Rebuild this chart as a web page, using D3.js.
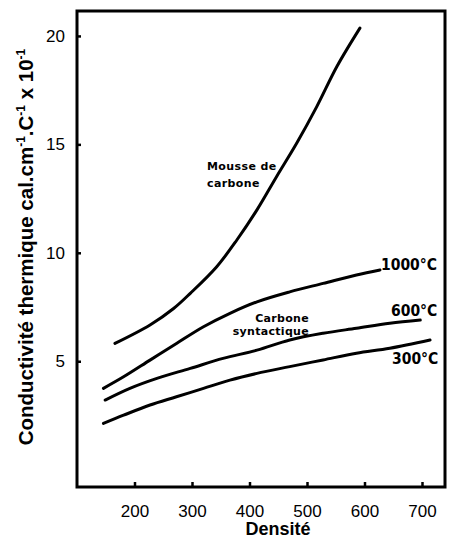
<!DOCTYPE html>
<html><head><meta charset="utf-8">
<script src="https://cdn.jsdelivr.net/npm/d3@7/dist/d3.min.js"></script>
<style>body{margin:0;background:#fff}</style>
</head><body>
<svg id="c" width="449" height="547"></svg>
<script>
const xTicks = [200, 300, 400, 500, 600, 700];
const yTicks = [5, 10, 15, 20];
const mousseX = [166, 227, 268, 297, 343, 378, 413, 447, 482, 517, 552, 592];
const mousseY = [5.82, 6.67, 7.43, 8.13, 9.36, 10.59, 11.98, 13.51, 15.05, 16.74, 18.59, 20.36];
const t1000X = [146, 181, 227, 273, 320, 366, 413, 470, 528, 586, 627];
const t1000Y = [3.75, 4.28, 5.05, 5.82, 6.59, 7.21, 7.74, 8.20, 8.59, 8.98, 9.21];
const t600X = [149, 192, 239, 297, 354, 413, 470, 528, 586, 644, 697];
const t600Y = [3.21, 3.75, 4.21, 4.67, 5.13, 5.51, 5.98, 6.29, 6.52, 6.75, 6.90];
const t300X = [146, 181, 227, 273, 320, 366, 413, 470, 528, 586, 644, 714];
const t300Y = [2.13, 2.51, 2.98, 3.36, 3.75, 4.13, 4.44, 4.75, 5.06, 5.37, 5.60, 5.98];
const seriesLabels = ["1000°C", "600°C", "300°C"];

const svg = d3.select("#c");
const L = 77, R = 445, T = 11, B = 487;
const x = d3.scaleLinear().domain([100, 740]).range([L, R]);
const y = d3.scaleLinear().domain([-0.8, 21.15]).range([B, T]);

// frame
svg.append("rect").attr("x", L).attr("y", T).attr("width", R - L).attr("height", B - T)
  .attr("fill", "none").attr("stroke", "#000").attr("stroke-width", 3);

// x axis
const xa = svg.append("g").attr("transform", `translate(0,${B})`)
  .call(d3.axisBottom(x).tickValues(xTicks).tickSize(-5).tickPadding(18).tickFormat(d3.format("d")));
xa.select(".domain").remove();
xa.selectAll("line").attr("stroke-width", 2.5);
xa.selectAll("text").attr("font-family", "Liberation Sans, Arial, sans-serif").attr("font-size", 17).attr("fill", "#000");

// y axis
const ya = svg.append("g").attr("transform", `translate(${L},0)`)
  .call(d3.axisLeft(y).tickValues(yTicks).tickSize(-4).tickPadding(12).tickFormat(d3.format("d")));
ya.select(".domain").remove();
ya.selectAll("line").attr("stroke-width", 2.5);
ya.selectAll("text").attr("font-family", "Liberation Sans, Arial, sans-serif").attr("font-size", 17).attr("fill", "#000");

// axis titles
svg.append("text").attr("x", 278).attr("y", 535).attr("text-anchor", "middle")
  .attr("font-family", "Liberation Sans, Arial, sans-serif").attr("font-weight", "bold").attr("font-size", 18)
  .text("Densité");

const yt = svg.append("text").attr("transform", "translate(33,247) rotate(-90)").attr("text-anchor", "middle")
  .attr("font-family", "Liberation Sans, Arial, sans-serif").attr("font-weight", "bold").attr("font-size", 20.5);
yt.append("tspan").text("Conductivité thermique cal.cm");
yt.append("tspan").attr("dy", -8).attr("font-size", 12).text("-1");
yt.append("tspan").attr("dy", 8).text(".C");
yt.append("tspan").attr("dy", -8).attr("font-size", 12).text("-1");
yt.append("tspan").attr("dy", 8).text(" x 10");
yt.append("tspan").attr("dy", -8).attr("font-size", 12).text("-1");

// curves
const line = d3.line().x(d => x(d[0])).y(d => y(d[1])).curve(d3.curveCatmullRom.alpha(0.5));
[[mousseX, mousseY], [t1000X, t1000Y], [t600X, t600Y], [t300X, t300Y]].forEach(([xs, ys]) => {
  svg.append("path").datum(xs.map((v, i) => [v, ys[i]])).attr("d", line)
    .attr("fill", "none").attr("stroke", "#000").attr("stroke-width", 3).attr("stroke-linecap", "round");
});

// annotations
const ann = (tx, ty, s, anchor, size, fam, ls) => svg.append("text").attr("x", tx).attr("y", ty)
  .attr("text-anchor", anchor).attr("font-family", fam).attr("font-weight", "bold")
  .attr("letter-spacing", ls || 0)
  .attr("font-size", size).attr("fill", "#000").text(s);
const annFont = "DejaVu Sans, sans-serif";
ann(207, 170, "Mousse de", "start", 11, annFont, 0.4);
ann(207, 187, "carbone", "start", 11, annFont, 0.4);
ann(309, 322, "Carbone", "end", 11, annFont, 0.3);
ann(309, 335, "syntactique", "end", 11, annFont, 0.3);
const tFont = "DejaVu Sans Condensed, DejaVu Sans, sans-serif";
ann(381, 270, seriesLabels[0], "start", 15.5, tFont);
ann(391, 316, seriesLabels[1], "start", 15.5, tFont);
ann(392, 364, seriesLabels[2], "start", 15.5, tFont);
</script>
</body></html>
